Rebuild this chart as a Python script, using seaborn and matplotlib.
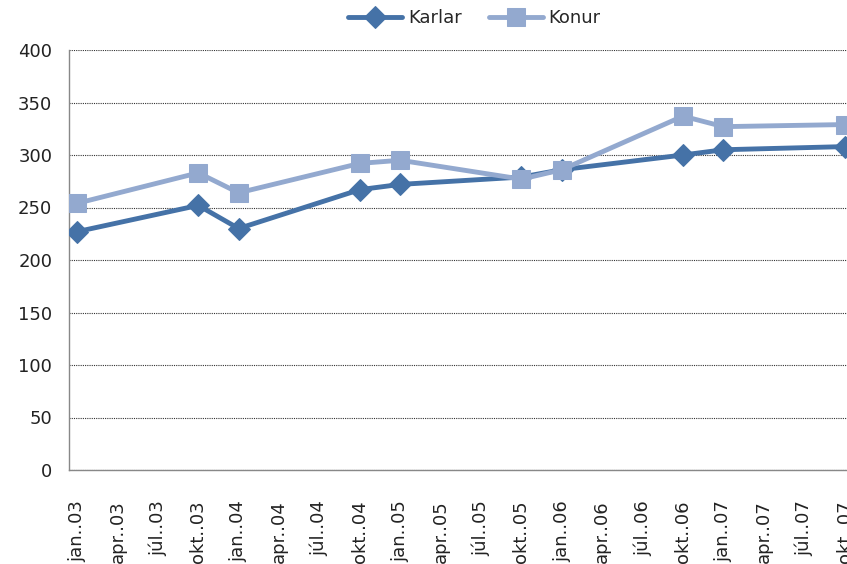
import matplotlib
matplotlib.use("Agg")
import matplotlib.pyplot as plt
import seaborn as sns
import pandas as pd
import numpy as np

tick_labels = ["jan..03", "apr..03", "júl..03", "okt..03", "jan..04", "apr..04", "júl..04",
               "okt..04", "jan..05", "apr..05", "júl..05", "okt..05", "jan..06", "apr..06",
               "júl..06", "okt..06", "jan..07", "apr..07", "júl..07", "okt..07"]
points = ["jan..03", "okt..03", "jan..04", "okt..04", "jan..05", "okt..05",
          "jan..06", "okt..06", "jan..07", "okt..07"]
karlar = [227, 252, 230, 267, 272, 279, 286, 300, 305, 308]
konur = [254, 283, 264, 292, 295, 277, 286, 337, 327, 329]

sns.set_theme(style="white")
plt.rcParams['font.family'] = ['DejaVu Sans']

pos = [tick_labels.index(p) for p in points]
df = pd.DataFrame({
    "x": pos * 2,
    "value": karlar + konur,
    "series": ["Karlar"] * len(pos) + ["Konur"] * len(pos),
})

fig = plt.figure(figsize=(8.47, 5.64), dpi=100)
ax = fig.add_axes([69/847, 1 - 470/564, 1 - 69/847, 420/564])

c1 = "#4572A7"
c2 = "#93A9CF"
sns.lineplot(data=df[df.series == "Karlar"], x="x", y="value", ax=ax, color=c1,
             linewidth=3.5, marker="D", markersize=11, markeredgecolor=c1, label="Karlar",
             zorder=3)
sns.lineplot(data=df[df.series == "Konur"], x="x", y="value", ax=ax, color=c2,
             linewidth=3.5, marker="s", markersize=13, markeredgecolor=c2, label="Konur",
             zorder=4)

ax.set_xlim(-0.2, 19.06)
ax.set_ylim(0, 400)
ax.set_yticks(range(0, 401, 50))
ax.set_xticks(range(len(tick_labels)))
ax.set_xticklabels(tick_labels, rotation=90, fontsize=13, color="#222222")
ax.tick_params(axis="y", labelsize=13, labelcolor="#222222", length=0, pad=12)
ax.tick_params(axis="x", length=0, pad=22)
ax.set_xlabel("")
ax.set_ylabel("")
ax.yaxis.grid(True, linestyle=(0, (1, 1)), color="#333333", linewidth=0.8)
ax.xaxis.grid(False)
for s in ["top", "right"]:
    ax.spines[s].set_visible(False)
for s in ["left", "bottom"]:
    ax.spines[s].set_color("#888888")
    ax.spines[s].set_linewidth(1)

handles, labels = ax.get_legend_handles_labels()
ax.legend_.remove()
fig.legend(handles, labels,
           loc="center", bbox_to_anchor=(0.56, 0.968), ncol=2, frameon=False,
           fontsize=13, handlelength=3, columnspacing=1.5, handletextpad=0.3)

fig.savefig("out.png", dpi=100)
